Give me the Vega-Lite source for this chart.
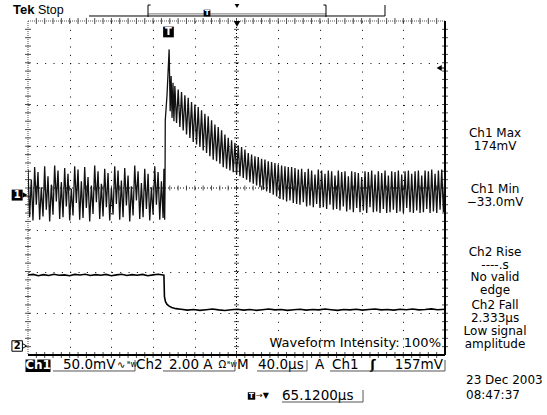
{
"$schema":"https://vega.github.io/schema/vega-lite/v6.json",
"width":417,"height":334,
"autosize":"none",
"padding":{"left":28,"top":21,"right":102,"bottom":60},
"background":"white",
"config":{"view":{"stroke":null},"font":"DejaVu Sans","text":{"font":"DejaVu Sans","color":"#000"}},
"datasets":{
"xminor":[{"d":-4.8},{"d":-4.6},{"d":-4.4},{"d":-4.2},{"d":-4},{"d":-3.8},{"d":-3.6},{"d":-3.4},{"d":-3.2},{"d":-3},{"d":-2.8},{"d":-2.6},{"d":-2.4},{"d":-2.2},{"d":-2},{"d":-1.8},{"d":-1.6},{"d":-1.4},{"d":-1.2},{"d":-1},{"d":-0.8},{"d":-0.6},{"d":-0.4},{"d":-0.2},{"d":0},{"d":0.2},{"d":0.4},{"d":0.6},{"d":0.8},{"d":1},{"d":1.2},{"d":1.4},{"d":1.6},{"d":1.8},{"d":2},{"d":2.2},{"d":2.4},{"d":2.6},{"d":2.8},{"d":3},{"d":3.2},{"d":3.4},{"d":3.6},{"d":3.8},{"d":4},{"d":4.2},{"d":4.4},{"d":4.6},{"d":4.8}],
"yminor":[{"d":-3.8},{"d":-3.6},{"d":-3.4},{"d":-3.2},{"d":-3},{"d":-2.8},{"d":-2.6},{"d":-2.4},{"d":-2.2},{"d":-2},{"d":-1.8},{"d":-1.6},{"d":-1.4},{"d":-1.2},{"d":-1},{"d":-0.8},{"d":-0.6},{"d":-0.4},{"d":-0.2},{"d":0},{"d":0.2},{"d":0.4},{"d":0.6},{"d":0.8},{"d":1},{"d":1.2},{"d":1.4},{"d":1.6},{"d":1.8},{"d":2},{"d":2.2},{"d":2.4},{"d":2.6},{"d":2.8},{"d":3},{"d":3.2},{"d":3.4},{"d":3.6},{"d":3.8}],
"ch1":[{"t":-134.9,"v":30},{"t":-133.3,"v":-27},{"t":-131.7,"v":18},{"t":-130.1,"v":-31},{"t":-128.5,"v":33},{"t":-126.9,"v":-12},{"t":-125.3,"v":27},{"t":-123.7,"v":-30},{"t":-122.1,"v":9},{"t":-120.5,"v":-26},{"t":-118.9,"v":34},{"t":-117.3,"v":-18},{"t":-115.7,"v":22},{"t":-114.1,"v":-32},{"t":-112.5,"v":12},{"t":-110.9,"v":-24},{"t":-109.3,"v":35},{"t":-107.7,"v":-8},{"t":-106.1,"v":29},{"t":-104.5,"v":-29},{"t":-102.9,"v":15},{"t":-101.3,"v":-27},{"t":-99.7,"v":32},{"t":-98.1,"v":-14},{"t":-96.5,"v":25},{"t":-94.9,"v":-31},{"t":-93.3,"v":7},{"t":-91.7,"v":-25},{"t":-90.1,"v":34},{"t":-88.5,"v":-10},{"t":-86.9,"v":30},{"t":-85.3,"v":-30},{"t":-83.7,"v":16},{"t":-82.1,"v":-28},{"t":-80.5,"v":33},{"t":-78.9,"v":-16},{"t":-77.3,"v":21},{"t":-75.7,"v":-32},{"t":-74.1,"v":11},{"t":-72.5,"v":-23},{"t":-70.9,"v":35},{"t":-69.3,"v":-9},{"t":-67.7,"v":28},{"t":-66.1,"v":-29},{"t":-64.5,"v":13},{"t":-62.9,"v":-26},{"t":-61.3,"v":31},{"t":-59.7,"v":-15},{"t":-58.1,"v":26},{"t":-56.5,"v":-31},{"t":-54.9,"v":8},{"t":-53.3,"v":-24},{"t":-51.7,"v":34},{"t":-50.1,"v":-11},{"t":-48.5,"v":29},{"t":-46.9,"v":-30},{"t":-45.3,"v":17},{"t":-43.7,"v":-27},{"t":-42.1,"v":32},{"t":-40.5,"v":-13},{"t":-38.9,"v":23},{"t":-37.3,"v":-32},{"t":-35.7,"v":10},{"t":-34.1,"v":-25},{"t":-32.5,"v":35},{"t":-30.9,"v":-7},{"t":-29.3,"v":28},{"t":-27.7,"v":-29},{"t":-26.1,"v":14},{"t":-24.5,"v":-27},{"t":-22.9,"v":31},{"t":-21.3,"v":-17},{"t":-19.7,"v":25},{"t":-18.1,"v":-31},{"t":-16.5,"v":9},{"t":-14.9,"v":-24},{"t":-13.3,"v":34},{"t":-11.7,"v":-12},{"t":-10.1,"v":27},{"t":-8.5,"v":-30},{"t":-6.9,"v":16},{"t":-5.3,"v":-28},{"t":-4.5,"v":31},{"t":-3.8,"v":-30},{"t":-3.5,"v":0},{"t":-3.2,"v":89},{"t":-1.5,"v":120},{"t":0.5,"v":174},{"t":1.5,"v":100},{"t":2.4,"v":142},{"t":3.3,"v":92},{"t":4.2,"v":134},{"t":5.1,"v":88},{"t":6.0,"v":130},{"t":7.6,"v":86},{"t":9.2,"v":126},{"t":10.8,"v":81},{"t":12.4,"v":123},{"t":14.0,"v":77},{"t":15.6,"v":119},{"t":17.2,"v":72},{"t":18.8,"v":116},{"t":20.4,"v":68},{"t":22.0,"v":111},{"t":23.6,"v":63},{"t":25.2,"v":108},{"t":26.8,"v":60},{"t":28.4,"v":105},{"t":30.0,"v":57},{"t":31.6,"v":101},{"t":33.2,"v":53},{"t":34.8,"v":97},{"t":36.4,"v":50},{"t":38.0,"v":94},{"t":39.6,"v":46},{"t":41.2,"v":89},{"t":42.8,"v":42},{"t":44.4,"v":84},{"t":46.0,"v":40},{"t":47.6,"v":81},{"t":49.2,"v":37},{"t":50.8,"v":77},{"t":52.4,"v":33},{"t":54.0,"v":72},{"t":55.6,"v":31},{"t":57.2,"v":68},{"t":58.8,"v":29},{"t":60.4,"v":65},{"t":62.0,"v":27},{"t":63.6,"v":62},{"t":65.2,"v":24},{"t":66.8,"v":59},{"t":68.4,"v":22},{"t":70.0,"v":57},{"t":71.6,"v":20},{"t":73.2,"v":54},{"t":74.8,"v":18},{"t":76.4,"v":50},{"t":78.0,"v":15},{"t":79.6,"v":48},{"t":81.2,"v":13},{"t":82.8,"v":46},{"t":84.4,"v":11},{"t":86.0,"v":45},{"t":87.6,"v":9},{"t":89.2,"v":43},{"t":90.8,"v":6},{"t":92.4,"v":42},{"t":94.0,"v":4},{"t":95.6,"v":40},{"t":97.2,"v":2},{"t":98.8,"v":39},{"t":100.4,"v":0},{"t":102.0,"v":38},{"t":103.6,"v":-2},{"t":105.2,"v":36},{"t":106.8,"v":-5},{"t":108.4,"v":35},{"t":110.0,"v":-6},{"t":111.6,"v":34},{"t":113.2,"v":-8},{"t":114.8,"v":33},{"t":116.4,"v":-7},{"t":118.0,"v":33},{"t":119.6,"v":-10},{"t":121.2,"v":32},{"t":122.8,"v":-11},{"t":124.4,"v":30},{"t":126.0,"v":-12},{"t":127.6,"v":31},{"t":129.2,"v":-9},{"t":130.8,"v":27},{"t":132.4,"v":-14},{"t":134.0,"v":31},{"t":135.6,"v":-13},{"t":137.2,"v":29},{"t":138.8,"v":-15},{"t":140.4,"v":24},{"t":142.0,"v":-11},{"t":143.6,"v":30},{"t":145.2,"v":-16},{"t":146.8,"v":29},{"t":148.4,"v":-15},{"t":150.0,"v":25},{"t":151.6,"v":-17},{"t":153.2,"v":29},{"t":154.8,"v":-12},{"t":156.4,"v":28},{"t":158.0,"v":-18},{"t":159.6,"v":23},{"t":161.2,"v":-17},{"t":162.8,"v":29},{"t":164.4,"v":-19},{"t":166.0,"v":27},{"t":167.6,"v":-14},{"t":169.2,"v":28},{"t":170.8,"v":-20},{"t":172.4,"v":22},{"t":174.0,"v":-18},{"t":175.6,"v":28},{"t":177.2,"v":-21},{"t":178.8,"v":27},{"t":180.4,"v":-16},{"t":182.0,"v":26},{"t":183.6,"v":-21},{"t":185.2,"v":21},{"t":186.8,"v":-19},{"t":188.4,"v":28},{"t":190.0,"v":-22},{"t":191.6,"v":27},{"t":193.2,"v":-15},{"t":194.8,"v":29},{"t":196.4,"v":-21},{"t":198.0,"v":24},{"t":199.6,"v":-20},{"t":201.2,"v":28},{"t":202.8,"v":-22},{"t":204.4,"v":26},{"t":206.0,"v":-17},{"t":207.6,"v":29},{"t":209.2,"v":-22},{"t":210.8,"v":23},{"t":212.4,"v":-21},{"t":214.0,"v":28},{"t":215.6,"v":-18},{"t":217.2,"v":27},{"t":218.8,"v":-22},{"t":220.4,"v":29},{"t":222.0,"v":-20},{"t":223.6,"v":24},{"t":225.2,"v":-22},{"t":226.8,"v":28},{"t":228.4,"v":-16},{"t":230.0,"v":29},{"t":231.6,"v":-21},{"t":233.2,"v":25},{"t":234.8,"v":-22},{"t":236.4,"v":28},{"t":238.0,"v":-19},{"t":239.6,"v":29},{"t":241.2,"v":-22},{"t":242.8,"v":23},{"t":244.4,"v":-21},{"t":246.0,"v":29},{"t":247.6,"v":-17},{"t":249.2,"v":28},{"t":250.8,"v":-22},{"t":252.4,"v":30},{"t":254.0,"v":-20},{"t":255.6,"v":25},{"t":257.2,"v":-22},{"t":258.8,"v":29},{"t":260.4,"v":-18},{"t":262.0,"v":30},{"t":263.6,"v":-21},{"t":265.1,"v":27}],
"ch2":[{"t":-134.9,"a":3.33},{"t":-130,"a":3.36},{"t":-125,"a":3.30},{"t":-120,"a":3.35},{"t":-115,"a":3.31},{"t":-110,"a":3.37},{"t":-105,"a":3.32},{"t":-100,"a":3.34},{"t":-95,"a":3.30},{"t":-90,"a":3.36},{"t":-85,"a":3.33},{"t":-80,"a":3.37},{"t":-75,"a":3.31},{"t":-70,"a":3.35},{"t":-65,"a":3.32},{"t":-60,"a":3.36},{"t":-55,"a":3.30},{"t":-50,"a":3.34},{"t":-45,"a":3.37},{"t":-40,"a":3.31},{"t":-35,"a":3.35},{"t":-30,"a":3.32},{"t":-25,"a":3.36},{"t":-20,"a":3.30},{"t":-15,"a":3.34},{"t":-10,"a":3.37},{"t":-5.5,"a":3.33},{"t":-4.5,"a":3.32},{"t":-4,"a":2.3},{"t":-3,"a":2.05},{"t":-1.5,"a":1.92},{"t":0.5,"a":1.84},{"t":3,"a":1.78},{"t":7,"a":1.72},{"t":12,"a":1.69},{"t":18,"a":1.65},{"t":24,"a":1.68},{"t":30,"a":1.64},{"t":36,"a":1.67},{"t":42,"a":1.70},{"t":48,"a":1.66},{"t":54,"a":1.63},{"t":60,"a":1.67},{"t":66,"a":1.69},{"t":72,"a":1.65},{"t":78,"a":1.68},{"t":84,"a":1.64},{"t":90,"a":1.67},{"t":96,"a":1.70},{"t":102,"a":1.66},{"t":108,"a":1.68},{"t":114,"a":1.64},{"t":120,"a":1.67},{"t":126,"a":1.69},{"t":132,"a":1.65},{"t":138,"a":1.68},{"t":144,"a":1.66},{"t":150,"a":1.70},{"t":156,"a":1.67},{"t":162,"a":1.64},{"t":168,"a":1.68},{"t":174,"a":1.66},{"t":180,"a":1.69},{"t":186,"a":1.65},{"t":192,"a":1.68},{"t":198,"a":1.70},{"t":204,"a":1.66},{"t":210,"a":1.68},{"t":216,"a":1.65},{"t":222,"a":1.69},{"t":228,"a":1.67},{"t":234,"a":1.70},{"t":240,"a":1.66},{"t":246,"a":1.68},{"t":252,"a":1.71},{"t":258,"a":1.67},{"t":265.1,"a":1.69}]
},
"layer":[
{"data":{"values":[{}]},
"layer":[
{"data":{"name":"xminor"},"mark":{"type":"tick","orient":"vertical","size":5,"thickness":1,"color":"#000"},
 "encoding":{"x":{"field":"d","type":"quantitative","scale":{"domain":[-5,5],"nice":false,"zero":false},"axis":{"values":[-4,-3,-2,-1,1,2,3,4],"grid":true,"gridDash":[1,7.34],"gridColor":"#000","gridOpacity":1,"gridWidth":1,"labels":false,"ticks":false,"domain":false,"title":null}},
  "y":{"datum":0,"type":"quantitative","scale":{"domain":[-4,4],"nice":false,"zero":false},"axis":{"values":[-3,-2,-1,1,2,3],"grid":true,"gridDash":[1,7.34],"gridColor":"#000","gridOpacity":1,"gridWidth":1,"labels":false,"ticks":false,"domain":false,"title":null}}}},
{"data":{"name":"yminor"},"mark":{"type":"tick","orient":"horizontal","size":5,"thickness":1,"color":"#000"},"encoding":{"y":{"field":"d","type":"quantitative"},"x":{"datum":0,"type":"quantitative"}}},
{"data":{"name":"xminor"},"mark":{"type":"tick","orient":"vertical","size":6,"thickness":1,"color":"#000"},"encoding":{"x":{"field":"d","type":"quantitative"},"y":{"datum":4,"type":"quantitative"}}},
{"data":{"name":"xminor"},"mark":{"type":"tick","orient":"vertical","size":6,"thickness":1,"color":"#000"},"encoding":{"x":{"field":"d","type":"quantitative"},"y":{"datum":-4,"type":"quantitative"}}},
{"data":{"name":"yminor"},"mark":{"type":"tick","orient":"horizontal","size":6,"thickness":1,"color":"#000"},"encoding":{"y":{"field":"d","type":"quantitative"},"x":{"datum":-5,"type":"quantitative"}}},
{"data":{"name":"yminor"},"mark":{"type":"tick","orient":"horizontal","size":6,"thickness":1,"color":"#000"},"encoding":{"y":{"field":"d","type":"quantitative"},"x":{"datum":5,"type":"quantitative"}}},
{"mark":{"type":"rule","color":"#000","strokeDash":[1,2]},"encoding":{"y":{"datum":0,"type":"quantitative"}}},
{"mark":{"type":"rule","color":"#000","strokeDash":[1,2]},"encoding":{"x":{"datum":0,"type":"quantitative"}}},
{"mark":{"type":"rule","color":"#555","strokeDash":[1,1]},"encoding":{"y":{"datum":4,"type":"quantitative"}}},
{"mark":{"type":"rule","color":"#555","strokeDash":[1,1]},"encoding":{"x":{"datum":-5,"type":"quantitative"}}},
{"mark":{"type":"rule","color":"#000","strokeWidth":2},"encoding":{"x":{"datum":5,"type":"quantitative"}}},
{"mark":{"type":"rule","color":"#000","strokeWidth":2},"encoding":{"y":{"datum":-4,"type":"quantitative"}}},
{"mark":{"type":"rule","color":"#000"},"encoding":{"x":{"datum":-3.537,"type":"quantitative"},"x2":{"datum":3.561},"y":{"datum":4.12,"type":"quantitative"}}},
{"mark":{"type":"rule","color":"#777"},"encoding":{"x":{"datum":-2.122,"type":"quantitative"},"x2":{"datum":2.146},"y":{"datum":4.17,"type":"quantitative"}}},
{"mark":{"type":"rule","color":"#000"},"encoding":{"x":{"datum":-2.122,"type":"quantitative"},"y":{"datum":4.096,"type":"quantitative"},"y2":{"datum":4.383}}},
{"mark":{"type":"rule","color":"#000"},"encoding":{"x":{"datum":2.146,"type":"quantitative"},"y":{"datum":4.096,"type":"quantitative"},"y2":{"datum":4.383}}},
{"mark":{"type":"rule","color":"#000"},"encoding":{"x":{"datum":-2.122,"type":"quantitative"},"x2":{"datum":-2.06},"y":{"datum":4.383,"type":"quantitative"}}},
{"mark":{"type":"rule","color":"#000"},"encoding":{"x":{"datum":2.084,"type":"quantitative"},"x2":{"datum":2.146},"y":{"datum":4.383,"type":"quantitative"}}},
{"mark":{"type":"rule","color":"#000"},"encoding":{"x":{"datum":3.561,"type":"quantitative"},"y":{"datum":4.12,"type":"quantitative"},"y2":{"datum":4.383}}},
{"mark":{"type":"point","shape":"square","filled":true,"color":"#000","size":45,"opacity":1},"encoding":{"x":{"datum":-0.707,"type":"quantitative"},"y":{"datum":4.19,"type":"quantitative"}}},
{"mark":{"type":"text","text":"T","color":"#fff","fontSize":7,"fontWeight":"bold","align":"center","baseline":"middle"},"encoding":{"x":{"datum":-0.707,"type":"quantitative"},"y":{"datum":4.19,"type":"quantitative"}}},
{"mark":{"type":"point","shape":"triangle-down","filled":true,"color":"#000","size":22,"opacity":1},"encoding":{"x":{"datum":0.012,"type":"quantitative"},"y":{"datum":4.36,"type":"quantitative"}}},
{"mark":{"type":"point","shape":"triangle-down","filled":true,"color":"#000","size":45,"opacity":1},"encoding":{"x":{"datum":0.012,"type":"quantitative"},"y":{"datum":3.93,"type":"quantitative"}}},
{"mark":{"type":"point","shape":"square","filled":true,"color":"#000","size":115,"opacity":1},"encoding":{"x":{"datum":-1.631,"type":"quantitative"},"y":{"datum":3.737,"type":"quantitative"}}},
{"mark":{"type":"text","text":"T","color":"#fff","fontSize":10,"fontWeight":"bold","align":"center","baseline":"middle"},"encoding":{"x":{"datum":-1.631,"type":"quantitative"},"y":{"datum":3.737,"type":"quantitative"}}},
{"mark":{"type":"point","shape":"triangle-left","filled":true,"color":"#000","size":35,"opacity":1},"encoding":{"x":{"datum":4.86,"type":"quantitative"},"y":{"datum":2.874,"type":"quantitative"}}},
{"mark":{"type":"rule","color":"#000"},"encoding":{"x":{"datum":4.86,"type":"quantitative"},"x2":{"datum":5},"y":{"datum":2.874,"type":"quantitative"}}},
{"mark":{"type":"point","shape":"square","filled":true,"color":"#000","size":120,"opacity":1},"encoding":{"x":{"datum":-5.26,"type":"quantitative"},"y":{"datum":-0.17,"type":"quantitative"}}},
{"mark":{"type":"point","shape":"triangle-right","filled":true,"color":"#000","size":30,"opacity":1},"encoding":{"x":{"datum":-5.07,"type":"quantitative"},"y":{"datum":-0.17,"type":"quantitative"}}},
{"mark":{"type":"text","text":"1","color":"#fff","fontSize":10,"fontWeight":"bold","align":"center","baseline":"middle"},"encoding":{"x":{"datum":-5.26,"type":"quantitative"},"y":{"datum":-0.17,"type":"quantitative"}}},
{"mark":{"type":"point","shape":"triangle-right","filled":false,"color":"#000","size":30,"opacity":1,"strokeWidth":1},"encoding":{"x":{"datum":-5.09,"type":"quantitative"},"y":{"datum":-3.784,"type":"quantitative"}}},
{"mark":{"type":"point","shape":"square","filled":true,"fill":"#fff","stroke":"#000","strokeWidth":1,"size":110,"opacity":1},"encoding":{"x":{"datum":-5.26,"type":"quantitative"},"y":{"datum":-3.784,"type":"quantitative"}}},
{"mark":{"type":"text","text":"2","color":"#000","fontSize":10,"fontWeight":"bold","align":"center","baseline":"middle"},"encoding":{"x":{"datum":-5.26,"type":"quantitative"},"y":{"datum":-3.784,"type":"quantitative"}}},
{"mark":{"type":"text","text":"Tek","font":"Liberation Sans","fontSize":13,"fontWeight":"bold","align":"left","baseline":"middle"},"encoding":{"x":{"datum":-5.36,"type":"quantitative"},"y":{"datum":4.263,"type":"quantitative"}}},
{"mark":{"type":"text","text":"Stop","font":"Liberation Sans","fontSize":12.5,"align":"left","baseline":"middle"},"encoding":{"x":{"datum":-4.76,"type":"quantitative"},"y":{"datum":4.263,"type":"quantitative"}}},
{"mark":{"type":"text","text":"Ch1 Max\n174mV","lineBreak":"\n","lineHeight":13,"fontSize":12,"align":"center","baseline":"middle"},"encoding":{"x":{"datum":6.2,"type":"quantitative"},"y":{"datum":1.317,"type":"quantitative"}}},
{"mark":{"type":"text","text":"Ch1 Min\n−33.0mV","lineBreak":"\n","lineHeight":13,"fontSize":12,"align":"center","baseline":"middle"},"encoding":{"x":{"datum":6.2,"type":"quantitative"},"y":{"datum":-0.024,"type":"quantitative"}}},
{"mark":{"type":"text","text":"Ch2 Rise\n----.s\nNo valid\nedge","lineBreak":"\n","lineHeight":12.7,"fontSize":12,"align":"center","baseline":"middle"},"encoding":{"x":{"datum":6.2,"type":"quantitative"},"y":{"datum":-1.53,"type":"quantitative"}}},
{"mark":{"type":"text","text":"Ch2 Fall\n2.333µs\nLow signal\namplitude","lineBreak":"\n","lineHeight":13,"fontSize":12,"align":"center","baseline":"middle"},"encoding":{"x":{"datum":6.2,"type":"quantitative"},"y":{"datum":-2.80,"type":"quantitative"}}},
{"mark":{"type":"text","text":"23 Dec  2003\n08:47:37","lineBreak":"\n","lineHeight":15,"fontSize":12,"align":"left","baseline":"middle"},"encoding":{"x":{"datum":5.504,"type":"quantitative"},"y":{"datum":-4.60,"type":"quantitative"}}},
{"mark":{"type":"text","text":"Waveform Intensity: 100%","fontSize":13,"align":"right","baseline":"middle"},"encoding":{"x":{"datum":4.904,"type":"quantitative"},"y":{"datum":-3.713,"type":"quantitative"}}},
{"mark":{"type":"rect","color":"#000","opacity":1},"encoding":{"x":{"datum":-5.06,"type":"quantitative"},"x2":{"datum":-4.46},"y":{"datum":-4.108,"type":"quantitative"},"y2":{"datum":-4.407}}},
{"mark":{"type":"text","text":"Ch1","color":"#fff","fontSize":12,"fontWeight":"bold","align":"center","baseline":"middle"},"encoding":{"x":{"datum":-4.76,"type":"quantitative"},"y":{"datum":-4.251,"type":"quantitative"}}},
{"mark":{"type":"text","text":"50.0mV","fontSize":13.5,"align":"left","baseline":"middle"},"encoding":{"x":{"datum":-4.161,"type":"quantitative"},"y":{"datum":-4.251,"type":"quantitative"}}},
{"mark":{"type":"text","text":"∿","fontSize":10,"align":"left","baseline":"middle"},"encoding":{"x":{"datum":-2.866,"type":"quantitative"},"y":{"datum":-4.251,"type":"quantitative"}}},
{"mark":{"type":"text","text":"ᴮw","fontSize":8,"align":"left","baseline":"middle"},"encoding":{"x":{"datum":-2.626,"type":"quantitative"},"y":{"datum":-4.251,"type":"quantitative"}}},
{"mark":{"type":"rule","color":"#555"},"encoding":{"x":{"datum":-4.40,"type":"quantitative"},"x2":{"datum":-2.434},"y":{"datum":-4.383,"type":"quantitative"}}},
{"mark":{"type":"rule","color":"#555"},"encoding":{"x":{"datum":-2.434,"type":"quantitative"},"y":{"datum":-4.12,"type":"quantitative"},"y2":{"datum":-4.383}}},
{"mark":{"type":"text","text":"Ch2","fontSize":13.5,"align":"left","baseline":"middle"},"encoding":{"x":{"datum":-2.41,"type":"quantitative"},"y":{"datum":-4.251,"type":"quantitative"}}},
{"mark":{"type":"text","text":"2.00 A","fontSize":13.5,"align":"left","baseline":"middle"},"encoding":{"x":{"datum":-1.62,"type":"quantitative"},"y":{"datum":-4.251,"type":"quantitative"}}},
{"mark":{"type":"text","text":"Ω","fontSize":10,"align":"left","baseline":"middle"},"encoding":{"x":{"datum":-0.43,"type":"quantitative"},"y":{"datum":-4.251,"type":"quantitative"}}},
{"mark":{"type":"text","text":"ᴮw","fontSize":8,"align":"left","baseline":"middle"},"encoding":{"x":{"datum":-0.225,"type":"quantitative"},"y":{"datum":-4.251,"type":"quantitative"}}},
{"mark":{"type":"rule","color":"#555"},"encoding":{"x":{"datum":-1.763,"type":"quantitative"},"x2":{"datum":-0.036},"y":{"datum":-4.383,"type":"quantitative"}}},
{"mark":{"type":"rule","color":"#555"},"encoding":{"x":{"datum":-0.036,"type":"quantitative"},"y":{"datum":-4.12,"type":"quantitative"},"y2":{"datum":-4.383}}},
{"mark":{"type":"text","text":"M","fontSize":13.5,"align":"left","baseline":"middle"},"encoding":{"x":{"datum":0.012,"type":"quantitative"},"y":{"datum":-4.251,"type":"quantitative"}}},
{"mark":{"type":"text","text":"40.0µs","fontSize":13.5,"align":"left","baseline":"middle"},"encoding":{"x":{"datum":0.516,"type":"quantitative"},"y":{"datum":-4.251,"type":"quantitative"}}},
{"mark":{"type":"rule","color":"#555"},"encoding":{"x":{"datum":0.492,"type":"quantitative"},"x2":{"datum":1.691},"y":{"datum":-4.383,"type":"quantitative"}}},
{"mark":{"type":"rule","color":"#555"},"encoding":{"x":{"datum":1.691,"type":"quantitative"},"y":{"datum":-4.12,"type":"quantitative"},"y2":{"datum":-4.383}}},
{"mark":{"type":"text","text":"A","fontSize":13.5,"align":"left","baseline":"middle"},"encoding":{"x":{"datum":1.882,"type":"quantitative"},"y":{"datum":-4.251,"type":"quantitative"}}},
{"mark":{"type":"text","text":"Ch1","fontSize":13.5,"align":"left","baseline":"middle"},"encoding":{"x":{"datum":2.29,"type":"quantitative"},"y":{"datum":-4.251,"type":"quantitative"}}},
{"mark":{"type":"text","text":"ʃ","fontSize":13,"fontWeight":"bold","align":"center","baseline":"middle"},"encoding":{"x":{"datum":3.273,"type":"quantitative"},"y":{"datum":-4.251,"type":"quantitative"}}},
{"mark":{"type":"text","text":"157mV","fontSize":13.5,"align":"right","baseline":"middle"},"encoding":{"x":{"datum":4.952,"type":"quantitative"},"y":{"datum":-4.251,"type":"quantitative"}}},
{"mark":{"type":"rule","color":"#555"},"encoding":{"x":{"datum":2.242,"type":"quantitative"},"x2":{"datum":5.0},"y":{"datum":-4.383,"type":"quantitative"}}},
{"mark":{"type":"rule","color":"#555"},"encoding":{"x":{"datum":5.0,"type":"quantitative"},"y":{"datum":-4.12,"type":"quantitative"},"y2":{"datum":-4.383}}},
{"mark":{"type":"point","shape":"square","filled":true,"color":"#000","size":55,"opacity":1},"encoding":{"x":{"datum":0.36,"type":"quantitative"},"y":{"datum":-4.982,"type":"quantitative"}}},
{"mark":{"type":"text","text":"T","color":"#fff","fontSize":7,"fontWeight":"bold","align":"center","baseline":"middle"},"encoding":{"x":{"datum":0.36,"type":"quantitative"},"y":{"datum":-4.982,"type":"quantitative"}}},
{"mark":{"type":"text","text":"→▼","fontSize":8,"align":"left","baseline":"middle"},"encoding":{"x":{"datum":0.468,"type":"quantitative"},"y":{"datum":-4.982,"type":"quantitative"}}},
{"mark":{"type":"text","text":"65.1200µs","fontSize":13.5,"align":"left","baseline":"middle"},"encoding":{"x":{"datum":1.091,"type":"quantitative"},"y":{"datum":-4.982,"type":"quantitative"}}},
{"mark":{"type":"rule","color":"#555"},"encoding":{"x":{"datum":1.091,"type":"quantitative"},"x2":{"datum":3.034},"y":{"datum":-5.126,"type":"quantitative"}}},
{"mark":{"type":"rule","color":"#555"},"encoding":{"x":{"datum":3.034,"type":"quantitative"},"y":{"datum":-4.838,"type":"quantitative"},"y2":{"datum":-5.126}}}
]},
{"layer":[
{"data":{"name":"ch1"},"mark":{"type":"line","color":"#111","strokeWidth":1.3,"clip":true},"encoding":{"x":{"field":"t","type":"quantitative","scale":{"domain":[-134.88,265.12],"nice":false,"zero":false},"axis":null},"y":{"field":"v","type":"quantitative","scale":{"domain":[-192,208],"nice":false,"zero":false},"axis":null}}},
{"data":{"name":"ch2"},"mark":{"type":"line","color":"#000","strokeWidth":1.6,"clip":true},"encoding":{"x":{"field":"t","type":"quantitative","axis":null},"y":{"field":"a","type":"quantitative","scale":{"domain":[-0.5,15.5],"nice":false,"zero":false},"axis":null}}}
],"resolve":{"scale":{"y":"independent"}}}
],
"resolve":{"scale":{"x":"independent","y":"independent"}}
}
